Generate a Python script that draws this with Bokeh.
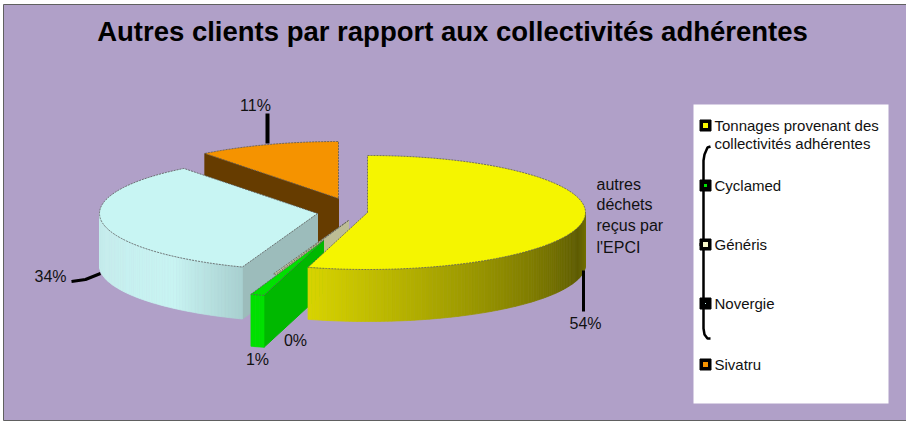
from math import sin, cos, radians
from bokeh.plotting import figure
from bokeh.models import Range1d, ColumnDataSource
from bokeh.core.properties import value
from bokeh.embed import file_html
from bokeh.resources import INLINE

# ---- data ----
categories = ["Tonnages provenant des collectivités adhérentes", "Cyclamed", "Généris", "Novergie", "Sivatru"]
shares = [54.4, 1.0, 0.2, 33.9, 10.5]
share_labels = ["54%", "1%", "0%", "34%", "11%"]
top_colors = ["#F5F500", "#00E000", "#C8C8A0", "#C8F5F3", "#F59300"]
cut_colors = ["#D8D400", "#00B800", "#BDBD95", "#9CBCBB", "#663C00"]
title = "Autres clients par rapport aux collectivités adhérentes"
callout = ["autres", "déchets", "reçus par", "l'EPCI"]

# ---- layout (reference pixels) ----
BG = "#B0A0C8"
RX, RY, DEPTH = 218, 57, 52
apex = [(367, 212), (323, 240), (348, 220), (317, 213), (338, 198)]
yellow_grad = [(0.0, "#7A7800"), (0.15, "#5E5C00"), (0.5, "#8F8C00"), (1.0, "#D8D400")]
cyan_grad = [(0.0, "#A8D0D0"), (0.3, "#C8F4F2"), (1.0, "#C6ECEC")]

p = figure(width=906, height=421, x_range=Range1d(0, 906), y_range=Range1d(421, 0),
           toolbar_location=None, output_backend="svg", x_axis_location=None, y_axis_location=None,
           min_border=0, background_fill_color="white", border_fill_color="white", outline_line_color=None)
p.grid.visible = False
p.quad(left=[3], right=[908], top=[4], bottom=[420], fill_color=BG, line_color="#606060", line_width=1)

def pt(c, a, dy=0):
    return c[0] + RX * sin(radians(a)), c[1] - RY * cos(radians(a)) + dy

def lerp(stops, t):
    for (t0, c0), (t1, c1) in zip(stops, stops[1:]):
        if t <= t1:
            f = (t - t0) / (t1 - t0)
            v = [round(int(c0[i:i+2], 16) * (1 - f) + int(c1[i:i+2], 16) * f) for i in (1, 3, 5)]
            return "#%02X%02X%02X" % tuple(v)
    return stops[-1][1]

def outer_wall(c, a0, a1, stops=None, color=None):
    n = max(1, int(a1 - a0))
    xs, ys, cols = [], [], []
    for i in range(n):
        s0, s1 = a0 + (a1 - a0) * i / n, a0 + (a1 - a0) * (i + 1) / n
        x0, y0 = pt(c, s0); x1, y1 = pt(c, s1)
        xs.append([x0, x1, x1, x0]); ys.append([y0, y1, y1 + DEPTH, y0 + DEPTH])
        cols.append(color or lerp(stops, (i + .5) / n))
    p.patches(xs, ys, fill_color=cols, line_color=cols, line_width=0.7)

def radial_wall(c, a, color):
    x, y = pt(c, a)
    p.patch([c[0], x, x, c[0]], [c[1], y, y + DEPTH, c[1] + DEPTH], fill_color=color, line_color=color)

def top(c, a0, a1, color):
    n = max(2, int(a1 - a0))
    pts = [pt(c, a0 + (a1 - a0) * i / n) for i in range(n + 1)]
    xs = [c[0]] + [q[0] for q in pts] + [c[0]]
    ys = [c[1]] + [q[1] for q in pts] + [c[1]]
    p.patch(xs, ys, fill_color=color, line_color="#5A5A5A", line_width=1, line_dash="2 1", line_alpha=0.8)

# sector angles, clockwise from 12 o'clock
edges = [0.0]
for s in shares:
    edges.append(edges[-1] + s * 3.6)
Y, G, B, C, O = range(5)

# orange (back)
radial_wall(apex[O], edges[O], cut_colors[O])
top(apex[O], edges[O], edges[O + 1], top_colors[O])
# cyan
radial_wall(apex[C], edges[C], cut_colors[C])
outer_wall(apex[C], edges[C], 270, cyan_grad)
top(apex[C], edges[C], edges[C + 1], top_colors[C])
# beige
radial_wall(apex[B], edges[B], cut_colors[B])
top(apex[B], edges[B], edges[B + 1], top_colors[B])
# green
radial_wall(apex[G], edges[G], cut_colors[G])
outer_wall(apex[G], edges[G], edges[G + 1], color="#00E000")
top(apex[G], edges[G], edges[G + 1], top_colors[G])
# yellow (front)
outer_wall(apex[Y], 90, edges[Y + 1], yellow_grad)
top(apex[Y], edges[Y], edges[Y + 1], top_colors[Y])

# leader lines
p.line([267, 267], [113, 143], line_color="black", line_width=4)
p.line([583, 583], [270, 311], line_color="black", line_width=3)
p.line([71, 85, 100], [281, 279, 273], line_color="black", line_width=3)

def txt(x, y, t, size, **kw):
    src = ColumnDataSource(dict(x=[x], y=[y], t=[t]))
    p.text("x", "y", text="t", source=src, text_font=value("Liberation Sans"), text_font_size=f"{size}px",
           text_color=kw.pop("color", "#111111"), text_baseline="middle", **kw)

txt(452, 31, title, 27.5, text_align="center", text_font_style="bold", color="#000000")
for (x, y), t in zip([(585, 323), (257, 359), (295, 340), (50, 276), (255, 105)], share_labels):
    txt(x, y, t, 16, text_align="center")
for y, t in zip([184, 204, 225, 247], callout):
    txt(596, y, t, 16, text_align="left")

# legend box
p.quad(left=[693], right=[888], top=[104], bottom=[403], fill_color="white", line_color=None)
bx = 703
p.line([bx + 7, bx + 4, bx + 1, bx, bx, bx + 1, bx + 4, bx + 7],
       [146, 147, 154, 160, 328, 334, 338, 338], line_color="black", line_width=2.5)
p.line([bx - 4, bx], [244, 244], line_color="black", line_width=3)
leg_y = [125, 185, 244, 303, 364]
leg_x = [705, 705, 705, 705, 705]
leg_col = [top_colors[0], top_colors[1], "#F5F5C8", "#C8F5F3", top_colors[4]]
leg_in = [5, 3, 5, 1, 5]
p.scatter(leg_x, leg_y, marker="square", size=11, fill_color="black", line_color="black")
p.scatter(leg_x, leg_y, marker="square", size=leg_in, fill_color=leg_col, line_color=None)
txt(714, 125, "Tonnages provenant des", 15, text_align="left")
txt(714, 143, "collectivités adhérentes", 15, text_align="left")
for y, t in zip(leg_y[1:], categories[1:]):
    txt(714, y, t, 15, text_align="left")

open("out.html", "w").write(file_html(p, INLINE))
